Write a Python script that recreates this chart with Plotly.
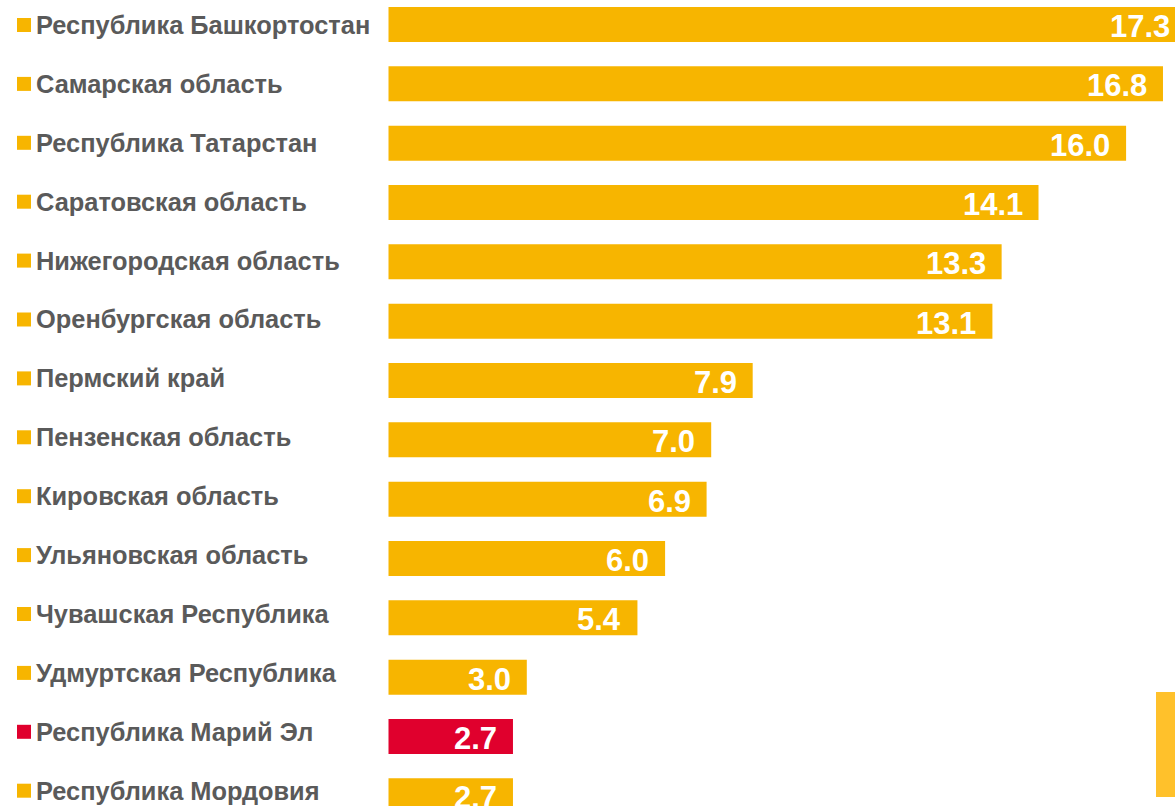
import plotly.graph_objects as go

regions = [
    "Республика Башкортостан", "Самарская область", "Республика Татарстан",
    "Саратовская область", "Нижегородская область", "Оренбургская область",
    "Пермский край", "Пензенская область", "Кировская область",
    "Ульяновская область", "Чувашская Республика", "Удмуртская Республика",
    "Республика Марий Эл", "Республика Мордовия",
]
values = [17.3, 16.8, 16.0, 14.1, 13.3, 13.1, 7.9, 7.0, 6.9, 6.0, 5.4, 3.0, 2.7, 2.7]
highlight = "Республика Марий Эл"

YELLOW = "#F7B500"
RED = "#E0002D"
GRAY = "#5A5A5A"
FONT = "Liberation Sans, Arial, sans-serif"

colors = [RED if r == highlight else YELLOW for r in regions]

# figure is slightly wider than the 1175px window; the overflow is cropped,
# like the reference where the longest bar runs past the right edge
W, H = 1200, 806
zero_px, px_per_unit = 388.5, 46.1
row0_px, row_pitch = 24.5, 59.33
label0_px, label_pitch = 25.0, 58.9

fig = go.Figure()
fig.add_trace(go.Bar(
    x=values, y=regions, orientation="h",
    marker=dict(color=colors, line=dict(width=0)),
    width=35 / row_pitch, hoverinfo="skip",
))

annotations = []
shapes = []
for i, (r, v, c) in enumerate(zip(regions, values, colors)):
    ly = label0_px + label_pitch * i
    annotations.append(dict(
        x=34 / W, xref="paper", xanchor="left",
        y=1 - ly / H, yref="paper", yanchor="middle",
        text=f"<b>{r}</b>", showarrow=False,
        font=dict(family=FONT, size=25.4, color=GRAY),
    ))
    annotations.append(dict(
        x=v, xref="x", xanchor="right", xshift=-14,
        y=r, yref="y", yanchor="middle", yshift=-2,
        text=f"<b>{v:.1f}</b>", showarrow=False,
        font=dict(family=FONT, size=31, color="white"),
    ))
    shapes.append(dict(
        type="rect", xref="paper", yref="paper",
        x0=17 / W, x1=31 / W, y0=1 - (ly + 7) / H, y1=1 - (ly - 7) / H,
        fillcolor=c, line=dict(width=0),
    ))
shapes.append(dict(
    type="rect", xref="paper", yref="paper",
    x0=1156 / W, x1=1.0, y0=1 - 797 / H, y1=1 - 692 / H,
    fillcolor="#FFC12B", line=dict(width=0),
))

fig.update_layout(
    width=W, height=H,
    margin=dict(l=0, r=0, t=0, b=0),
    paper_bgcolor="white", plot_bgcolor="white",
    showlegend=False,
    annotations=annotations, shapes=shapes,
    xaxis=dict(range=[-zero_px / px_per_unit, (W - zero_px) / px_per_unit],
               visible=False, fixedrange=True),
    yaxis=dict(categoryorder="array", categoryarray=regions,
               range=[(H - row0_px) / row_pitch, -row0_px / row_pitch],
               visible=False, fixedrange=True),
)

fig.write_html(
    "out.html",
    config={"displayModeBar": False},
    post_script="document.body.style.margin='0';document.body.style.overflow='hidden';",
)
